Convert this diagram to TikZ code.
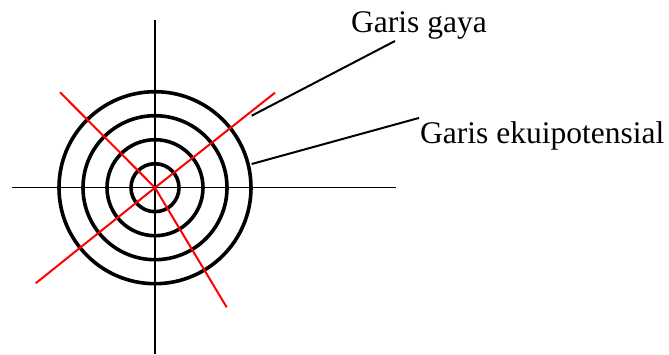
\documentclass[tikz,border=0pt]{standalone}
\usepackage{fontspec}
\setmainfont{Liberation Serif}
\usepackage{tikz}
\usetikzlibrary{positioning,calc}

\begin{document}
\begin{tikzpicture}[
    x=1pt, y=1pt,
    every node/.style={font=\fontsize{31.5}{36}\selectfont, inner sep=0pt},
    axis/.style={line width=1.3pt},
    equipot/.style={line width=3.6pt},
    fieldline/.style={red, line width=2pt},
    leader/.style={line width=2pt}
]
\useasboundingbox (0,0) rectangle (669,354);

% Centre and axes
\coordinate (O) at (155,166.3);
\coordinate (axl) at (11.5,166.3);
\coordinate (axr) at (396,166.3);
\coordinate (axt) at (155,334);
\coordinate (axb) at (155,0);
\draw[axis] (axl) -- (axr);
\draw[axis] (axt) -- (axb);

% Equipotential circles
\foreach \r in {24,48,72,96}
    \draw[equipot] (O) circle (\r);

% Field lines
\coordinate (fa) at (60,261.7);
\coordinate (fb) at (226.7,46.7);
\coordinate (fc) at (275,261.3);
\coordinate (fd) at (35.7,70.7);
\draw[fieldline] (fa) -- (O) -- (fb);
\draw[fieldline] (fc) -- (O) -- (fd);

% Labels
\node[anchor=base west] (gaya) at (351,321) {Garis gaya};
\node[anchor=base west] (ekui) at (420,211) {Garis ekuipotensial};
\coordinate (gayatip) at (251.7,238.3);
\coordinate (ekuitip) at (251.7,190);
\draw[leader] ($(gaya.south west)+(44,-1)$) -- (gayatip);
\draw[leader] ($(ekui.north west)+(-1,3)$) -- (ekuitip);

\end{tikzpicture}
\end{document}
